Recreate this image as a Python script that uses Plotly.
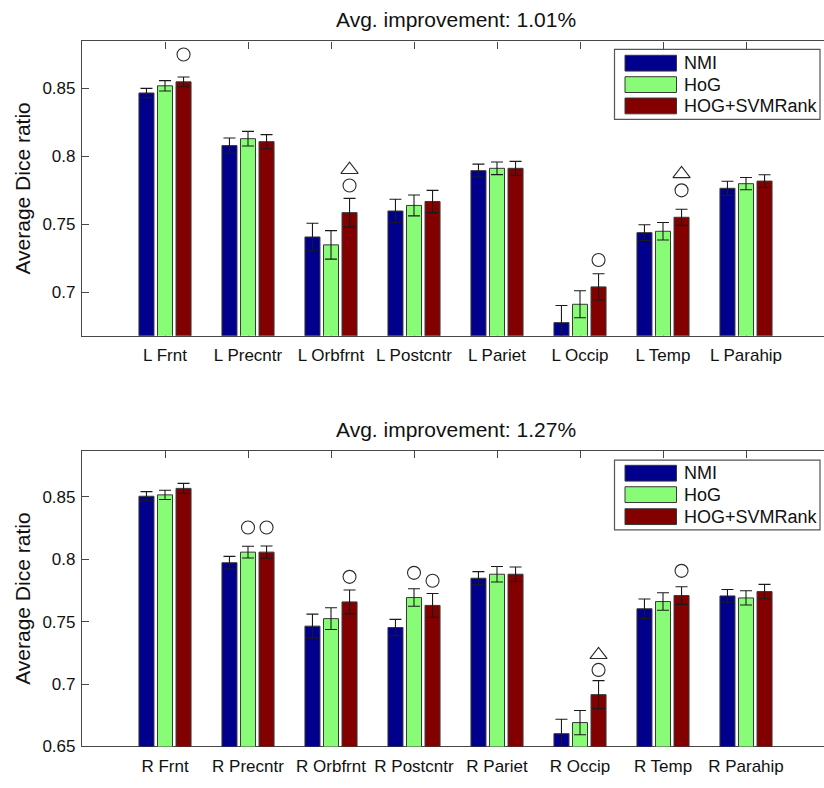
import plotly.graph_objects as go

# ---- data -------------------------------------------------------------
series_names = ["NMI", "HoG", "HOG+SVMRank"]
series_colors = ["#00008C", "#88FC76", "#820000"]

left_regions = ["L Frnt", "L Precntr", "L Orbfrnt", "L Postcntr",
                "L Pariet", "L Occip", "L Temp", "L Parahip"]
right_regions = ["R Frnt", "R Precntr", "R Orbfrnt", "R Postcntr",
                 "R Pariet", "R Occip", "R Temp", "R Parahip"]

left_nmi = [0.8464, 0.8077, 0.7405, 0.7596, 0.7893, 0.6775, 0.7437, 0.7763]
left_nmi_err = [0.0034, 0.0056, 0.0101, 0.0086, 0.0048, 0.0126, 0.0058, 0.0052]
left_hog = [0.8517, 0.8128, 0.7347, 0.7637, 0.7910, 0.6910, 0.7447, 0.7797]
left_hog_err = [0.0038, 0.0054, 0.0105, 0.0077, 0.0046, 0.0099, 0.0064, 0.0045]
left_rank = [0.8546, 0.8106, 0.7584, 0.7666, 0.7910, 0.7038, 0.7550, 0.7816]
left_rank_err = [0.0036, 0.0052, 0.0105, 0.0082, 0.0051, 0.0097, 0.0059, 0.0047]

right_nmi = [0.8505, 0.7972, 0.7464, 0.7453, 0.7848, 0.6602, 0.7603, 0.7706]
right_nmi_err = [0.0037, 0.0051, 0.0096, 0.0065, 0.0053, 0.0116, 0.0079, 0.0051]
right_hog = [0.8516, 0.8057, 0.7524, 0.7693, 0.7880, 0.6691, 0.7661, 0.7690]
right_hog_err = [0.0037, 0.0047, 0.0087, 0.0070, 0.0062, 0.0097, 0.0070, 0.0057]
right_rank = [0.8568, 0.8057, 0.7658, 0.7630, 0.7880, 0.6915, 0.7709, 0.7741]
right_rank_err = [0.0040, 0.0049, 0.0096, 0.0095, 0.0058, 0.0112, 0.0071, 0.0058]

# significance symbols (height in Dice units, None = not significant)
left_circle_hog = [None] * 8
left_circle_rank = [0.8747, None, 0.7784, None, None, 0.7236, 0.7748, None]
left_triangle_rank = [None, None, 0.7900, None, None, None, 0.7869, None]

right_circle_hog = [None, 0.8255, None, 0.7891, None, None, None, None]
right_circle_rank = [None, 0.8255, 0.7859, 0.7828, None, 0.7113, 0.7907, None]
right_triangle_rank = [None, None, None, None, None, 0.7234, None, None]

left_title = "Avg. improvement: 1.01%"
right_title = "Avg. improvement: 1.27%"
y_label = "Average Dice ratio"
top_ticks = [0.7, 0.75, 0.8, 0.85]
bottom_ticks = [0.65, 0.7, 0.75, 0.8, 0.85]

# ---- layout constants -------------------------------------------------
W, H = 824, 788
FONT = "Liberation Sans, Arial, sans-serif"
BARGAP = 0.33
BARGROUPGAP = 0.19
SLOT = (1 - BARGAP) / 3          # width of one bar slot in category units


def px(x):
    return x / W


def py(y):
    return 1 - y / H


fig = go.Figure()
xpos = list(range(1, 9))

panels = [
    dict(xa="x", ya="y", vals=[left_nmi, left_hog, left_rank],
         errs=[left_nmi_err, left_hog_err, left_rank_err],
         circles=[None, left_circle_hog, left_circle_rank],
         tris=[None, None, left_triangle_rank]),
    dict(xa="x2", ya="y2", vals=[right_nmi, right_hog, right_rank],
         errs=[right_nmi_err, right_hog_err, right_rank_err],
         circles=[None, right_circle_hog, right_circle_rank],
         tris=[None, None, right_triangle_rank]),
]

for p in panels:
    for i, (name, col) in enumerate(zip(series_names, series_colors)):
        fig.add_trace(go.Bar(
            x=xpos, y=p["vals"][i], name=name, xaxis=p["xa"], yaxis=p["ya"],
            marker=dict(color=col, line=dict(color="#383838", width=1)),
            error_y=dict(type="data", array=p["errs"][i], visible=True,
                         color="#1a1a1a", thickness=1.1, width=6),
            showlegend=False,
        ))
    # significance symbols above bars
    for i in range(3):
        offset = (i - 1) * SLOT
        for arr, sym, size in ((p["circles"][i], "circle-open", 13),
                               (p["tris"][i], "triangle-up-open", 15)):
            if arr is None:
                continue
            xs = [x + offset for x, v in zip(xpos, arr) if v is not None]
            ys = [v for v in arr if v is not None]
            if not xs:
                continue
            fig.add_trace(go.Scatter(
                x=xs, y=ys, mode="markers", xaxis=p["xa"], yaxis=p["ya"],
                marker=dict(symbol=sym, size=size, color="#2a2a2a",
                            line=dict(width=1.1, color="#2a2a2a")),
                showlegend=False, hoverinfo="skip",
            ))

xdom = [px(82), 1.0]
xrange_ = [0, (W - 82) / 83.0]

axis_common = dict(
    showline=True, linecolor="#474747", linewidth=1.2,
    ticks="inside", ticklen=7, tickcolor="#474747", tickwidth=1,
    showgrid=False, zeroline=False,
    tickfont=dict(family=FONT, size=17, color="#111"),
)

fig.update_layout(
    width=W, height=H,
    margin=dict(l=0, r=0, t=0, b=0),
    paper_bgcolor="white", plot_bgcolor="white",
    barmode="group", bargap=BARGAP, bargroupgap=BARGROUPGAP,
    font=dict(family=FONT, color="#111"),
    xaxis=dict(domain=xdom, range=xrange_, anchor="y", mirror="ticks",
               tickvals=xpos, ticktext=left_regions, layer="below traces",
               ticklabelstandoff=4, **axis_common),
    yaxis=dict(domain=[py(340), py(42)], range=[0.6679, 0.8843],
               anchor="x", tickvals=top_ticks,
               ticktext=[f"{t:g}" for t in top_ticks],
               ticklabelstandoff=2, **axis_common),
    xaxis2=dict(domain=xdom, range=xrange_, anchor="y2", mirror="ticks",
                tickvals=xpos, ticktext=right_regions, layer="below traces",
                ticklabelstandoff=4, **axis_common),
    yaxis2=dict(domain=[py(756), py(457)], range=[0.65, 0.8866],
                anchor="x2", tickvals=bottom_ticks,
                ticktext=[f"{t:g}" for t in bottom_ticks],
                ticklabelstandoff=2, **axis_common),
)

annotations = []
shapes = []

# panel titles and y-axis labels
for title, ty, axis_mid in ((left_title, 20, 191), (right_title, 435, 606.5)):
    annotations.append(dict(
        text=title, x=px(456), y=py(ty), xref="paper", yref="paper",
        showarrow=False, xanchor="center", yanchor="middle",
        font=dict(family=FONT, size=21, color="#111")))
    annotations.append(dict(
        text=y_label, x=px(23), y=py(axis_mid), xref="paper", yref="paper",
        showarrow=False, xanchor="center", yanchor="middle", textangle=-90,
        font=dict(family=FONT, size=21, color="#111")))

# legend boxes drawn in each panel's upper right corner
for box_top, box_bot, rows in ((50, 121, (64, 85.7, 107.3)),
                               (466, 536.7, (479.3, 501, 523.3))):
    shapes.append(dict(type="rect", xref="paper", yref="paper",
                       x0=px(614.5), x1=px(820), y0=py(box_bot), y1=py(box_top),
                       line=dict(color="#555", width=1.2), fillcolor="white"))
    for name, col, cy in zip(series_names, series_colors, rows):
        shapes.append(dict(type="rect", xref="paper", yref="paper",
                           x0=px(625), x1=px(676.5), y0=py(cy + 8), y1=py(cy - 8),
                           line=dict(color="#383838", width=1), fillcolor=col))
        annotations.append(dict(
            text=name, x=px(682), y=py(cy), xref="paper", yref="paper",
            showarrow=False, xanchor="left", yanchor="middle",
            font=dict(family=FONT, size=18, color="#111")))

fig.update_layout(annotations=annotations, shapes=shapes)

fig.write_html("out.html")
